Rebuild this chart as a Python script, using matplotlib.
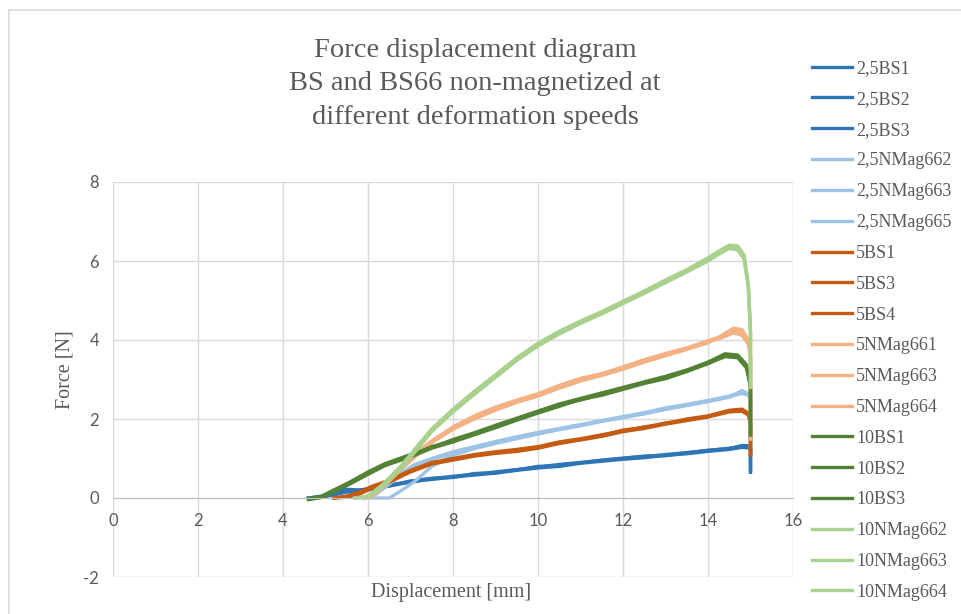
import matplotlib.pyplot as plt
from matplotlib.patches import Rectangle

plt.rcParams['axes.unicode_minus'] = False

# displacement [mm] sample points per speed group, force [N] per specimen
x_25bs = [4.6, 4.9, 5.2, 5.5, 5.8, 6.1, 6.5, 7.0, 7.5, 8.0, 8.5, 9.0, 9.5, 10.0, 10.5, 11.0,
          11.5, 12.0, 12.5, 13.0, 13.5, 14.0, 14.5, 14.8, 14.95, 15.0, 15.0]
bs25_1 = [0, 0.05, 0.15, 0.22, 0.20, 0.25, 0.33, 0.42, 0.47, 0.53, 0.58, 0.63, 0.70, 0.76, 0.80, 0.88,
          0.93, 0.98, 1.02, 1.08, 1.12, 1.18, 1.23, 1.28, 1.27, 1.25, 0.65]
bs25_2 = [0, 0.03, 0.10, 0.18, 0.20, 0.24, 0.31, 0.40, 0.49, 0.55, 0.60, 0.66, 0.72, 0.78, 0.85, 0.90,
          0.95, 1.00, 1.05, 1.10, 1.15, 1.20, 1.26, 1.30, 1.30, 1.28, 0.70]
bs25_3 = [0, 0.02, 0.08, 0.15, 0.18, 0.22, 0.30, 0.43, 0.50, 0.52, 0.62, 0.64, 0.71, 0.80, 0.82, 0.89,
          0.96, 1.01, 1.06, 1.07, 1.14, 1.21, 1.25, 1.33, 1.32, 1.30, 0.75]

x_25nm = [5.9, 6.2, 6.5, 6.8, 7.1, 7.5, 8.0, 8.5, 9.0, 9.5, 10.0, 10.5, 11.0, 11.5, 12.0, 12.5,
          13.0, 13.5, 14.0, 14.5, 14.8, 14.95, 15.0, 15.0]
nm25_2 = [0, 0.15, 0.40, 0.65, 0.85, 1.00, 1.17, 1.30, 1.43, 1.55, 1.66, 1.76, 1.86, 1.96, 2.06, 2.16,
          2.28, 2.37, 2.47, 2.58, 2.68, 2.62, 2.50, 1.30]
nm25_3 = [0, 0.10, 0.35, 0.60, 0.82, 0.98, 1.13, 1.27, 1.40, 1.52, 1.63, 1.74, 1.84, 1.95, 2.05, 2.15,
          2.25, 2.35, 2.45, 2.56, 2.65, 2.60, 2.50, 1.30]
nm25_5 = [0, 0, 0, 0.20, 0.42, 0.80, 1.08, 1.25, 1.38, 1.50, 1.62, 1.73, 1.83, 1.94, 2.03, 2.13,
          2.24, 2.34, 2.44, 2.55, 2.72, 2.64, 2.50, 1.30]

x_5bs = [5.2, 5.5, 5.8, 6.1, 6.5, 7.0, 7.5, 8.0, 8.5, 9.0, 9.5, 10.0, 10.5, 11.0, 11.5, 12.0,
         12.5, 13.0, 13.5, 14.0, 14.5, 14.8, 14.95, 15.0, 15.0]
bs5_1 = [0, 0.03, 0.12, 0.27, 0.42, 0.68, 0.88, 0.98, 1.08, 1.15, 1.20, 1.28, 1.40, 1.48, 1.58, 1.72,
         1.78, 1.90, 1.98, 2.06, 2.20, 2.22, 2.12, 1.90, 1.10]
bs5_3 = [0, 0.05, 0.15, 0.30, 0.45, 0.70, 0.90, 1.00, 1.10, 1.17, 1.23, 1.30, 1.42, 1.50, 1.60, 1.70,
         1.80, 1.88, 2.00, 2.08, 2.22, 2.25, 2.15, 1.90, 1.10]
bs5_4 = [0, 0.02, 0.10, 0.25, 0.40, 0.66, 0.86, 0.96, 1.06, 1.13, 1.18, 1.26, 1.38, 1.47, 1.56, 1.68,
         1.76, 1.87, 1.96, 2.05, 2.18, 2.20, 2.10, 1.90, 1.10]

x_5nm = [5.9, 6.1, 6.4, 6.75, 7.15, 7.5, 8.0, 8.5, 9.0, 9.5, 10.0, 10.5, 11.0, 11.5, 12.0, 12.5,
         13.0, 13.5, 14.0, 14.3, 14.6, 14.8, 14.95, 15.0, 15.0]
nm5_1 = [0, 0.10, 0.40, 0.78, 1.15, 1.45, 1.80, 2.08, 2.30, 2.48, 2.64, 2.85, 3.03, 3.15, 3.32, 3.50,
         3.66, 3.80, 3.98, 4.08, 4.25, 4.20, 3.95, 3.60, 1.50]
nm5_3 = [0, 0.08, 0.35, 0.74, 1.12, 1.42, 1.76, 2.03, 2.25, 2.44, 2.60, 2.80, 3.00, 3.12, 3.28, 3.46,
         3.62, 3.78, 3.95, 4.05, 4.18, 4.12, 3.90, 3.60, 1.50]
nm5_4 = [0, 0.05, 0.32, 0.70, 1.08, 1.40, 1.74, 2.00, 2.22, 2.42, 2.58, 2.78, 2.96, 3.10, 3.26, 3.44,
         3.60, 3.76, 3.93, 4.10, 4.30, 4.26, 4.00, 3.60, 1.50]

x_10bs = [4.6, 4.9, 5.15, 5.4, 5.6, 6.0, 6.4, 7.0, 7.5, 8.0, 8.5, 9.0, 9.5, 10.0, 10.5, 11.0,
          11.5, 12.0, 12.5, 13.0, 13.5, 14.0, 14.4, 14.7, 14.9, 14.97, 15.0, 15.0]
bs10_1 = [-0.03, 0.02, 0.15, 0.28, 0.39, 0.63, 0.84, 1.07, 1.30, 1.45, 1.62, 1.80, 2.00, 2.18, 2.35, 2.48,
          2.62, 2.78, 2.92, 3.05, 3.22, 3.42, 3.62, 3.58, 3.35, 3.00, 2.80, 1.60]
bs10_2 = [-0.02, 0.04, 0.18, 0.31, 0.42, 0.66, 0.87, 1.10, 1.28, 1.48, 1.65, 1.84, 2.02, 2.20, 2.38, 2.52,
          2.66, 2.80, 2.94, 3.08, 3.24, 3.44, 3.65, 3.62, 3.38, 3.00, 2.80, 1.60]
bs10_3 = [-0.04, 0.01, 0.13, 0.26, 0.37, 0.60, 0.82, 1.04, 1.26, 1.42, 1.60, 1.78, 1.97, 2.15, 2.32, 2.50,
          2.60, 2.75, 2.90, 3.02, 3.20, 3.40, 3.58, 3.55, 3.30, 3.00, 2.80, 1.60]

x_10nm = [5.7, 6.0, 6.36, 6.75, 7.15, 7.5, 8.0, 8.5, 9.0, 9.5, 10.0, 10.5, 11.0, 11.5, 12.0, 12.5,
          13.0, 13.5, 14.0, 14.3, 14.5, 14.7, 14.85, 14.95, 15.0, 15.0]
nm10_2 = [0, 0.05, 0.35, 0.78, 1.30, 1.75, 2.25, 2.70, 3.12, 3.55, 3.92, 4.22, 4.48, 4.72, 4.98, 5.24,
          5.52, 5.78, 6.08, 6.28, 6.40, 6.38, 6.15, 5.40, 4.20, 2.80]
nm10_3 = [0, 0.03, 0.32, 0.74, 1.26, 1.72, 2.22, 2.66, 3.08, 3.52, 3.88, 4.18, 4.45, 4.70, 4.95, 5.20,
          5.48, 5.74, 6.04, 6.24, 6.35, 6.32, 6.10, 5.35, 4.20, 2.80]
nm10_4 = [0, 0.02, 0.30, 0.72, 1.22, 1.68, 2.18, 2.62, 3.05, 3.48, 3.85, 4.15, 4.42, 4.66, 4.92, 5.18,
          5.45, 5.72, 6.00, 6.20, 6.32, 6.28, 6.05, 5.30, 4.20, 2.80]

series = [
    ("2,5BS1", x_25bs, bs25_1, "#2E75B6"),
    ("2,5BS2", x_25bs, bs25_2, "#2E75B6"),
    ("2,5BS3", x_25bs, bs25_3, "#2E75B6"),
    ("2,5NMag662", x_25nm, nm25_2, "#9DC3E6"),
    ("2,5NMag663", x_25nm, nm25_3, "#9DC3E6"),
    ("2,5NMag665", x_25nm, nm25_5, "#9DC3E6"),
    ("5BS1", x_5bs, bs5_1, "#C55A11"),
    ("5BS3", x_5bs, bs5_3, "#C55A11"),
    ("5BS4", x_5bs, bs5_4, "#C55A11"),
    ("5NMag661", x_5nm, nm5_1, "#F4B183"),
    ("5NMag663", x_5nm, nm5_3, "#F4B183"),
    ("5NMag664", x_5nm, nm5_4, "#F4B183"),
    ("10BS1", x_10bs, bs10_1, "#548235"),
    ("10BS2", x_10bs, bs10_2, "#548235"),
    ("10BS3", x_10bs, bs10_3, "#548235"),
    ("10NMag662", x_10nm, nm10_2, "#A9D18E"),
    ("10NMag663", x_10nm, nm10_3, "#A9D18E"),
    ("10NMag664", x_10nm, nm10_4, "#A9D18E"),
]

txt = "#595959"
serif = "Liberation Serif"

fig = plt.figure(figsize=(9.61, 6.14), dpi=100)
fig.patches.append(Rectangle((9 / 961, -0.1), 1.2, 1 - 10 / 614 + 0.1, transform=fig.transFigure,
                             fill=False, edgecolor="#D9D9D9", lw=1.2))
ax = fig.add_axes([113 / 961, 1 - 577 / 614, 680 / 961, 395 / 614])

for name, xs, ys, c in series:
    ax.plot(xs, ys, color=c, lw=2.4, label=name)

ax.set_xlim(0, 16)
ax.set_ylim(-2, 8)
ax.set_xticks(range(0, 17, 2))
ax.set_yticks(range(-2, 9, 2))
ax.grid(True, color="#D9D9D9", lw=1.0)
ax.set_axisbelow(True)
for s in ["top", "right", "left"]:
    ax.spines[s].set_visible(False)
ax.spines["bottom"].set_position(("data", 0))
ax.spines["bottom"].set_color("#BFBFBF")
ax.tick_params(length=0, labelcolor=txt, labelsize=12)
ax.tick_params(axis="x", pad=11)
ax.tick_params(axis="y", pad=10)
for lab in ax.get_xticklabels() + ax.get_yticklabels():
    lab.set_family("Lato")

fig.text(65 / 961, 1 - 370 / 614, "Force [N]", rotation=90, ha="center", va="center",
         family=serif, fontsize=14.5, color=txt)
fig.text(451 / 961, 1 - 593 / 614, "Displacement [mm]", ha="center", va="center",
         family=serif, fontsize=14.5, color=txt)
fig.text(475 / 961, 1 - 84 / 614,
         "Force displacement diagram\nBS and BS66 non-magnetized at\ndifferent deformation speeds",
         ha="center", va="center", family=serif, fontsize=20.5, color=txt, linespacing=1.45)

leg = fig.legend(loc="upper left", bbox_to_anchor=(812 / 961, 1 - 60 / 614), frameon=False,
                 prop={"family": serif, "size": 13}, labelcolor=txt, handlelength=2.2,
                 handletextpad=0.25, labelspacing=0.765, borderpad=0, borderaxespad=0)

fig.savefig("out.png", dpi=100)
